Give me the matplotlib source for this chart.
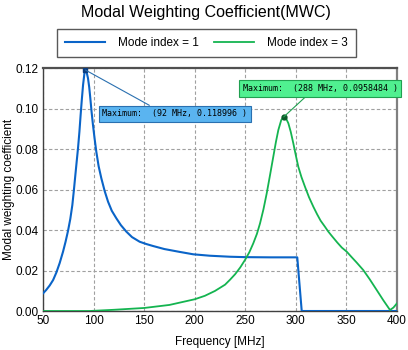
import matplotlib
matplotlib.use("Agg")
import matplotlib.pyplot as plt

plt.rcParams["font.family"] = ["Liberation Sans", "DejaVu Sans"]

# Mode index = 1
freq_1 = [50, 53, 56.6, 60, 63.2, 66.5, 69.8, 72.3, 74.7, 77, 79, 80.5, 82, 83.3, 84.6,
          86, 87.2, 88.4, 89.6, 91, 92, 93.2, 94.5, 95.7, 96.8, 98, 99.4, 101, 102.7,
          105, 107.7, 111, 114.3, 118, 122.5, 127, 132.4, 138, 145.6, 152, 158.8, 170,
          185, 198.6, 215, 235, 250, 275, 301.4, 305.8, 350, 400]
mwc_1 = [0.0087, 0.0103, 0.0126, 0.0153, 0.019, 0.0237, 0.0293, 0.0342, 0.0395, 0.0455,
         0.0523, 0.0595, 0.0672, 0.0738, 0.0803, 0.0885, 0.0968, 0.1045, 0.1116, 0.1175,
         0.119, 0.1178, 0.1149, 0.1105, 0.105, 0.0985, 0.0919, 0.0852, 0.0787, 0.0715,
         0.0655, 0.0592, 0.054, 0.0495, 0.0458, 0.0424, 0.0392, 0.0365, 0.0342, 0.0331,
         0.0321, 0.0306, 0.0292, 0.028, 0.0273, 0.0268, 0.0266, 0.0265, 0.0265, 0.0,
         0.0, 0.0]

# Mode index = 3
freq_3 = [50, 96, 100, 120, 150, 175, 200, 210, 220, 230, 235, 240, 245, 249.7, 254,
          257.9, 261.5, 264.6, 268, 271.2, 274.5, 277.7, 280.3, 282.7, 285.5, 288,
          290.3, 292.6, 295, 297.5, 300, 302.4, 305.5, 309, 313, 317.3, 321, 324.5,
          328.8, 332.1, 336, 341, 345.5, 350.3, 355, 360, 366.7, 373, 379.9, 386.5,
          393.1, 396.5, 400]
mwc_3 = [0.0, 0.0, 0.0001, 0.0006, 0.0015, 0.003, 0.0058, 0.0075, 0.0099, 0.013,
         0.0155, 0.0182, 0.0215, 0.0252, 0.029, 0.0334, 0.0381, 0.0433, 0.0503, 0.0581,
         0.0672, 0.0762, 0.0835, 0.0894, 0.0942, 0.096, 0.0951, 0.0927, 0.0884, 0.0828,
         0.0768, 0.0713, 0.0662, 0.0614, 0.0562, 0.0515, 0.0478, 0.0446, 0.0416, 0.0392,
         0.0368, 0.0338, 0.0313, 0.0293, 0.0267, 0.024, 0.0202, 0.0157, 0.0104, 0.0053,
         0.0005, 0.0017, 0.0038]

peak_1 = (92, 0.118996)
peak_3 = (288, 0.0958484)

x_ticks = [50, 100, 150, 200, 250, 300, 350, 400]
y_ticks = [0.00, 0.02, 0.04, 0.06, 0.08, 0.10, 0.12]

blue = "#0a64c8"
green = "#14b450"

fig = plt.figure(figsize=(4.08, 3.5), dpi=100)
ax = fig.add_axes([0.1054, 0.1114, 0.8676, 0.6943])

l1, = ax.plot(freq_1, mwc_1, color=blue, lw=1.5, label="Mode index = 1", zorder=3)
l3, = ax.plot(freq_3, mwc_3, color=green, lw=1.3, label="Mode index = 3", zorder=3)

ax.plot(*peak_1, marker="s", ms=3, color="#0b3d80", zorder=5)
ax.plot(*peak_3, marker="o", ms=3.5, color="#0b5a28", zorder=5)

ax.set_xlim(50, 400)
ax.set_ylim(0, 0.12)
ax.set_xticks(x_ticks)
ax.set_yticks(y_ticks)
ax.set_yticklabels(["%.2f" % v for v in y_ticks])
ax.tick_params(length=0, labelsize=8.5, pad=3)
ax.grid(True, color="#a0a0a0", ls=(0, (3, 2)), lw=0.8)

for s in ["left", "bottom"]:
    ax.spines[s].set_color("#404040")
    ax.spines[s].set_linewidth(1.0)
ax.spines["top"].set_color("#505050")
ax.spines["top"].set_linewidth(1.6)
ax.spines["right"].set_color("#808080")
ax.spines["right"].set_linewidth(1.6)

ax.set_xlabel("Frequency [MHz]", fontsize=8.5, labelpad=6)
ax.set_ylabel("Modal weighting coefficient", fontsize=8.5)
ax.yaxis.set_label_coords(-0.08, 0.5)
fig.text(0.504, 0.963, "Modal Weighting Coefficient(MWC)", ha="center", va="center",
         fontsize=11.5)

leg = fig.legend(handles=[l1, l3], loc="center", ncol=2,
                 bbox_to_anchor=(0.506, 0.877), fontsize=8.5, frameon=True,
                 fancybox=False, edgecolor="#303030", handlelength=3.4,
                 columnspacing=1.3, borderpad=0.7, handletextpad=1.1)
leg.get_frame().set_linewidth(1.0)

ax.annotate("Maximum:  (%d MHz, %g )" % peak_1, xy=peak_1, xytext=(180.5, 0.0973),
            ha="center", va="center", fontsize=6, family="DejaVu Sans Mono",
            bbox=dict(boxstyle="square,pad=0.45", fc="#5ab4f0", ec="#2a70b0", lw=0.8),
            arrowprops=dict(arrowstyle="-", color="#2a70b0", lw=0.8,
                            relpos=(0.375, 1.0), shrinkA=0, shrinkB=0),
            zorder=6)
ax.annotate("Maximum:  (%d MHz, %g )" % peak_3, xy=peak_3, xytext=(323.9, 0.110),
            ha="center", va="center", fontsize=6, family="DejaVu Sans Mono",
            bbox=dict(boxstyle="square,pad=0.45", fc="#50f090", ec="#20a050", lw=0.8),
            arrowprops=dict(arrowstyle="-", color="#20a050", lw=0.8,
                            relpos=(0.435, 0.0), shrinkA=0, shrinkB=0),
            zorder=6, annotation_clip=False)

fig.savefig("out.png", dpi=100)
